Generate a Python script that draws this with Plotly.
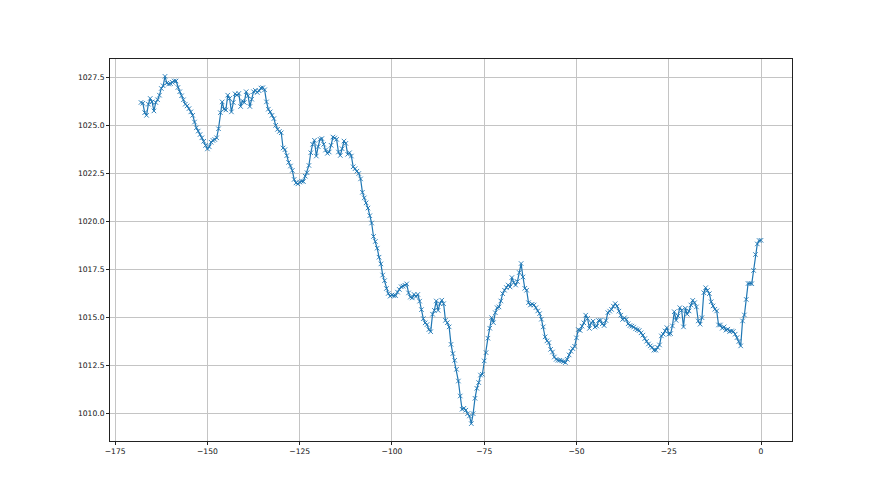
import numpy as np
import plotly.graph_objects as go

# Hours relative to now (half-hourly readings)
hours = np.arange(-168, 0.25, 0.5)

pressure = [
    1026.19, 1026.15, 1025.66, 1025.52, 1026.1, 1026.4, 1026.22, 1025.75, 1026.19, 1026.33,
    1026.57, 1026.92, 1027.06, 1027.55, 1027.2, 1027.15, 1027.17, 1027.24, 1027.31, 1027.31,
    1026.97, 1026.75, 1026.54, 1026.33, 1026.1, 1026.01, 1025.87, 1025.7, 1025.52, 1025.17,
    1024.87, 1024.7, 1024.52, 1024.35, 1024.17, 1023.95, 1023.77, 1023.88, 1024.12, 1024.21,
    1024.26, 1024.35, 1024.82, 1025.66, 1026.22, 1025.84, 1025.8, 1026.57, 1026.4, 1025.7,
    1026.19, 1026.64, 1026.57, 1026.66, 1025.98, 1026.27, 1026.19, 1026.75, 1026.54, 1025.98,
    1026.36, 1026.75, 1026.82, 1026.71, 1026.8, 1026.94, 1026.96, 1026.85, 1026.22, 1025.84,
    1025.7, 1025.52, 1025.35, 1025.0, 1024.79, 1024.68, 1024.61, 1023.82, 1023.73, 1023.42,
    1023.07,
    1022.88, 1022.65, 1022.18, 1022.0, 1021.95, 1022.04, 1022.09, 1022.07, 1022.35, 1022.53,
    1022.91, 1023.57, 1024.01, 1024.22, 1023.4, 1023.89, 1024.27, 1024.31, 1024.01, 1023.71,
    1023.54, 1023.61, 1023.96, 1024.39, 1024.34, 1024.27, 1023.61, 1023.43, 1023.78, 1024.18,
    1024.06, 1023.49, 1023.57, 1023.4, 1022.84, 1022.74, 1022.61, 1022.49, 1022.21, 1021.51,
    1021.22, 1020.96, 1020.69, 1020.29, 1019.91, 1019.21, 1018.95, 1018.6, 1018.13, 1017.78,
    1017.2, 1016.91, 1016.5, 1016.24, 1016.1, 1016.16,
    1016.13, 1016.13, 1016.31, 1016.45, 1016.59, 1016.62, 1016.67, 1016.74, 1016.27, 1016.05,
    1016.01, 1016.19, 1016.08, 1016.19, 1015.84, 1015.4, 1014.93, 1014.71, 1014.62, 1014.36,
    1014.25, 1015.16, 1015.36, 1015.85, 1015.36, 1015.71, 1015.89, 1015.71, 1014.84, 1014.72,
    1014.5, 1013.59, 1013.11, 1012.76, 1012.29, 1011.68, 1010.9, 1010.21, 1010.26, 1010.16,
    1009.98, 1009.86, 1009.46, 1009.98, 1010.78, 1011.3, 1011.6, 1011.99, 1012.03, 1012.73,
    1013.16, 1013.91, 1014.43, 1014.98, 1014.72, 1015.24, 1015.5, 1015.54, 1015.85, 1016.23,
    1016.41, 1016.55, 1016.68, 1016.58, 1017.07, 1016.81, 1016.68, 1016.86, 1017.33, 1017.8,
    1017.1, 1016.51, 1016.41, 1015.76, 1015.64, 1015.68, 1015.64, 1015.5, 1015.33, 1015.19,
    1014.9, 1014.5, 1013.98, 1013.77, 1013.68, 1013.33, 1013.19, 1012.93, 1012.81, 1012.76,
    1012.76, 1012.73, 1012.69, 1012.64, 1012.81, 1013.04,
    1013.23, 1013.37, 1013.49, 1013.93, 1014.36, 1014.31, 1014.54, 1014.71, 1015.11, 1014.94,
    1014.42, 1014.71, 1014.8, 1014.49, 1014.54, 1014.83, 1014.85, 1014.66, 1014.57, 1014.83,
    1015.24, 1015.32, 1015.41, 1015.58, 1015.71, 1015.58, 1015.32, 1015.11, 1014.89, 1014.97,
    1014.89, 1014.66, 1014.57, 1014.54, 1014.49, 1014.4, 1014.35, 1014.31, 1014.19, 1014.07,
    1013.89, 1013.75, 1013.61,
    1013.51, 1013.43, 1013.29, 1013.29, 1013.43, 1013.56, 1014.03, 1014.12, 1014.29, 1014.46,
    1014.12, 1014.15, 1014.55, 1015.29, 1014.84, 1015.07, 1015.5, 1015.36, 1014.5, 1015.47,
    1015.16, 1015.33, 1015.64, 1015.88, 1015.76, 1015.54, 1014.81, 1014.64, 1014.98, 1016.28,
    1016.54, 1016.4, 1016.23, 1015.81, 1015.59, 1015.42, 1015.33, 1014.6, 1014.6, 1014.43,
    1014.5, 1014.33, 1014.38, 1014.26, 1014.29, 1014.26, 1014.12, 1013.94, 1013.74, 1013.51,
    1014.81, 1015.12, 1015.93, 1016.76, 1016.76, 1016.75, 1017.44, 1018.27, 1018.82, 1019.0, 1019.01,
]

x_ticks = [-175, -150, -125, -100, -75, -50, -25, 0]
x_tick_labels = ["\u2212175", "\u2212150", "\u2212125", "\u2212100", "\u221275", "\u221250", "\u221225", "0"]
y_ticks = [1010.0, 1012.5, 1015.0, 1017.5, 1020.0, 1022.5, 1025.0, 1027.5]
y_tick_labels = ["%.1f" % v for v in y_ticks]

xmin, xmax = float(min(hours)), float(max(hours))
ymin, ymax = min(pressure), max(pressure)
xpad = 0.05 * (xmax - xmin)
ypad = 0.05 * (ymax - ymin)

fig = go.Figure()
fig.add_trace(go.Scatter(
    x=hours, y=pressure, mode="lines+markers",
    line=dict(color="#1f77b4", width=1.2),
    marker=dict(symbol="x-thin", size=4.5, color="#1f77b4",
                line=dict(color="#1f77b4", width=0.9)),
    showlegend=False,
))

axis_common = dict(
    showline=True, linecolor="#222222", linewidth=1, mirror=True,
    ticks="outside", ticklen=3, tickcolor="#222222", tickwidth=1,
    showgrid=True, gridcolor="#c4c4c4", gridwidth=1,
    zeroline=False,
    tickfont=dict(family="DejaVu Sans", size=7.6, color="#111111"),
)

fig.update_xaxes(range=[xmin - xpad, xmax + xpad], tickmode="array",
                 tickvals=x_ticks, ticktext=x_tick_labels, **axis_common)
fig.update_yaxes(range=[ymin - ypad, ymax + ypad], tickmode="array",
                 tickvals=y_ticks, ticktext=y_tick_labels, **axis_common)

# page body has an 8px default margin, so the figure is drawn 8px smaller
fig.update_layout(
    width=872, height=487,
    margin=dict(l=102, r=88, t=51, b=54),
    paper_bgcolor="white", plot_bgcolor="white",
    font=dict(family="DejaVu Sans"),
)

fig.write_html("out.html", config={"displayModeBar": False})
